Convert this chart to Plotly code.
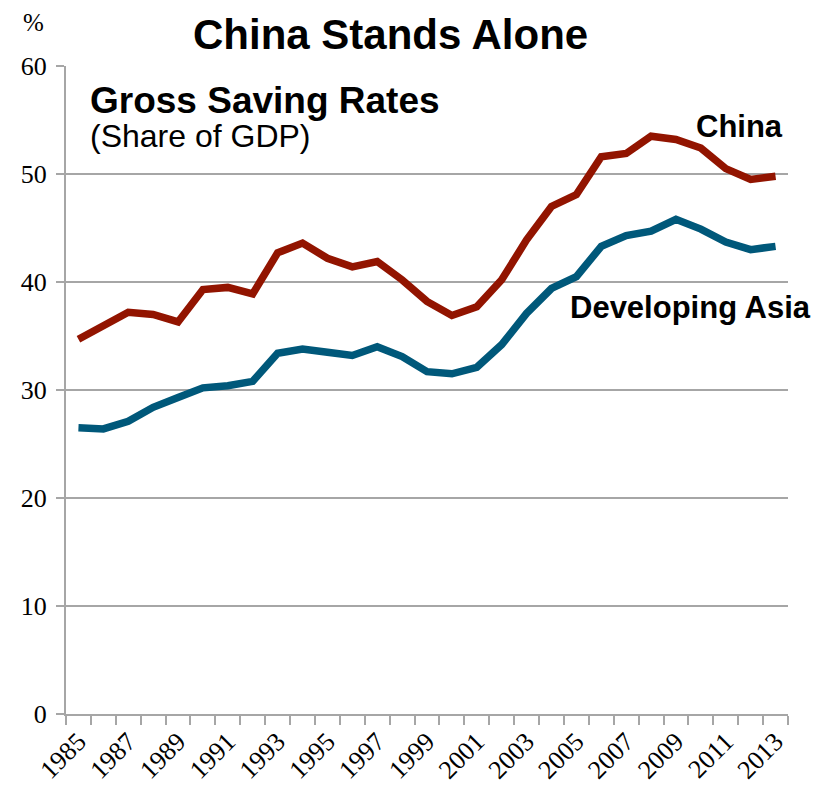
import plotly.graph_objects as go

years = list(range(1985, 2014))
china = [34.7, 35.9, 37.2, 37.0, 36.3, 39.3, 39.5, 38.9, 42.7, 43.6,
         42.2, 41.4, 41.9, 40.2, 38.2, 36.9, 37.7, 40.2, 43.9, 47.0,
         48.1, 51.6, 51.9, 53.5, 53.2, 52.4, 50.5, 49.5, 49.8]
dev_asia = [26.5, 26.4, 27.1, 28.4, 29.3, 30.2, 30.4, 30.8, 33.4, 33.8,
            33.5, 33.2, 34.0, 33.1, 31.7, 31.5, 32.1, 34.2, 37.1, 39.4,
            40.5, 43.3, 44.3, 44.7, 45.8, 44.9, 43.7, 43.0, 43.3]
label_years = list(range(1985, 2014, 2))
y_ticks = [0, 10, 20, 30, 40, 50, 60]

RED = "#921400"
BLUE = "#00587A"
GRID = "#A6A6A6"
SERIF = "Liberation Serif"
SANS = "Liberation Sans"

fig = go.Figure()
fig.add_trace(go.Scatter(x=years, y=china, mode="lines", name="China",
                         line=dict(color=RED, width=7.5)))
fig.add_trace(go.Scatter(x=years, y=dev_asia, mode="lines", name="Developing Asia",
                         line=dict(color=BLUE, width=7.5)))

fig.update_layout(
    width=833, height=786, autosize=False,
    margin=dict(l=66, r=45, t=66, b=72),
    plot_bgcolor="white", paper_bgcolor="white",
    showlegend=False,
    font=dict(family=SERIF, size=26, color="black"),
)
fig.update_xaxes(
    range=[1984.5, 2013.5], automargin=False,
    tickmode="array", tickvals=label_years,
    ticktext=[str(y) for y in label_years],
    tickangle=-45, ticks="", showgrid=False, zeroline=False,
    showline=True, linecolor=GRID, linewidth=2,
    tickfont_family=SERIF, tickfont_size=26, tickfont_color="black",
    minor=dict(tickmode="array",
               tickvals=[y - 0.5 for y in years] + [years[-1] + 0.5],
               ticks="outside", ticklen=9, tickwidth=2, tickcolor=GRID,
               showgrid=False),
)
fig.update_yaxes(
    range=[0, 60], automargin=False, tickmode="array", tickvals=y_ticks,
    ticks="outside", ticklen=8, tickwidth=2, tickcolor=GRID,
    showgrid=True, gridcolor=GRID, gridwidth=2, zeroline=False,
    showline=True, linecolor=GRID, linewidth=2, ticklabelstandoff=4,
    tickfont_family=SERIF, tickfont_size=26, tickfont_color="black",
)

fig.add_annotation(text="<b>China Stands Alone</b>", xref="paper", yref="paper",
                   x=0.45, y=1.0, yshift=32, xanchor="center", yanchor="middle",
                   showarrow=False, font=dict(family=SANS, size=42, color="black"))
fig.add_annotation(text="%", xref="paper", yref="paper", x=0, xshift=-33, y=1.0,
                   yshift=44, xanchor="center", yanchor="middle", showarrow=False,
                   font=dict(family=SERIF, size=25, color="black"))
fig.add_annotation(text="<b>Gross Saving Rates</b>", xref="paper", yref="paper",
                   x=0, xshift=22, y=1.0, yshift=-34, xanchor="left", yanchor="middle",
                   showarrow=False, font=dict(family=SANS, size=37, color="black"))
fig.add_annotation(text="(Share of GDP)", xref="paper", yref="paper",
                   x=0, xshift=22, y=1.0, yshift=-70, xanchor="left", yanchor="middle",
                   showarrow=False, font=dict(family=SANS, size=32, color="black"))
fig.add_annotation(text="<b>China</b>", x=2011.55, y=54.4, xanchor="center",
                   yanchor="middle", showarrow=False,
                   font=dict(family=SANS, size=31, color="black"))
fig.add_annotation(text="<b>Developing Asia</b>", x=2009.6, y=37.6, xanchor="center",
                   yanchor="middle", showarrow=False,
                   font=dict(family=SANS, size=31, color="black"))

fig.write_html("out.html")
